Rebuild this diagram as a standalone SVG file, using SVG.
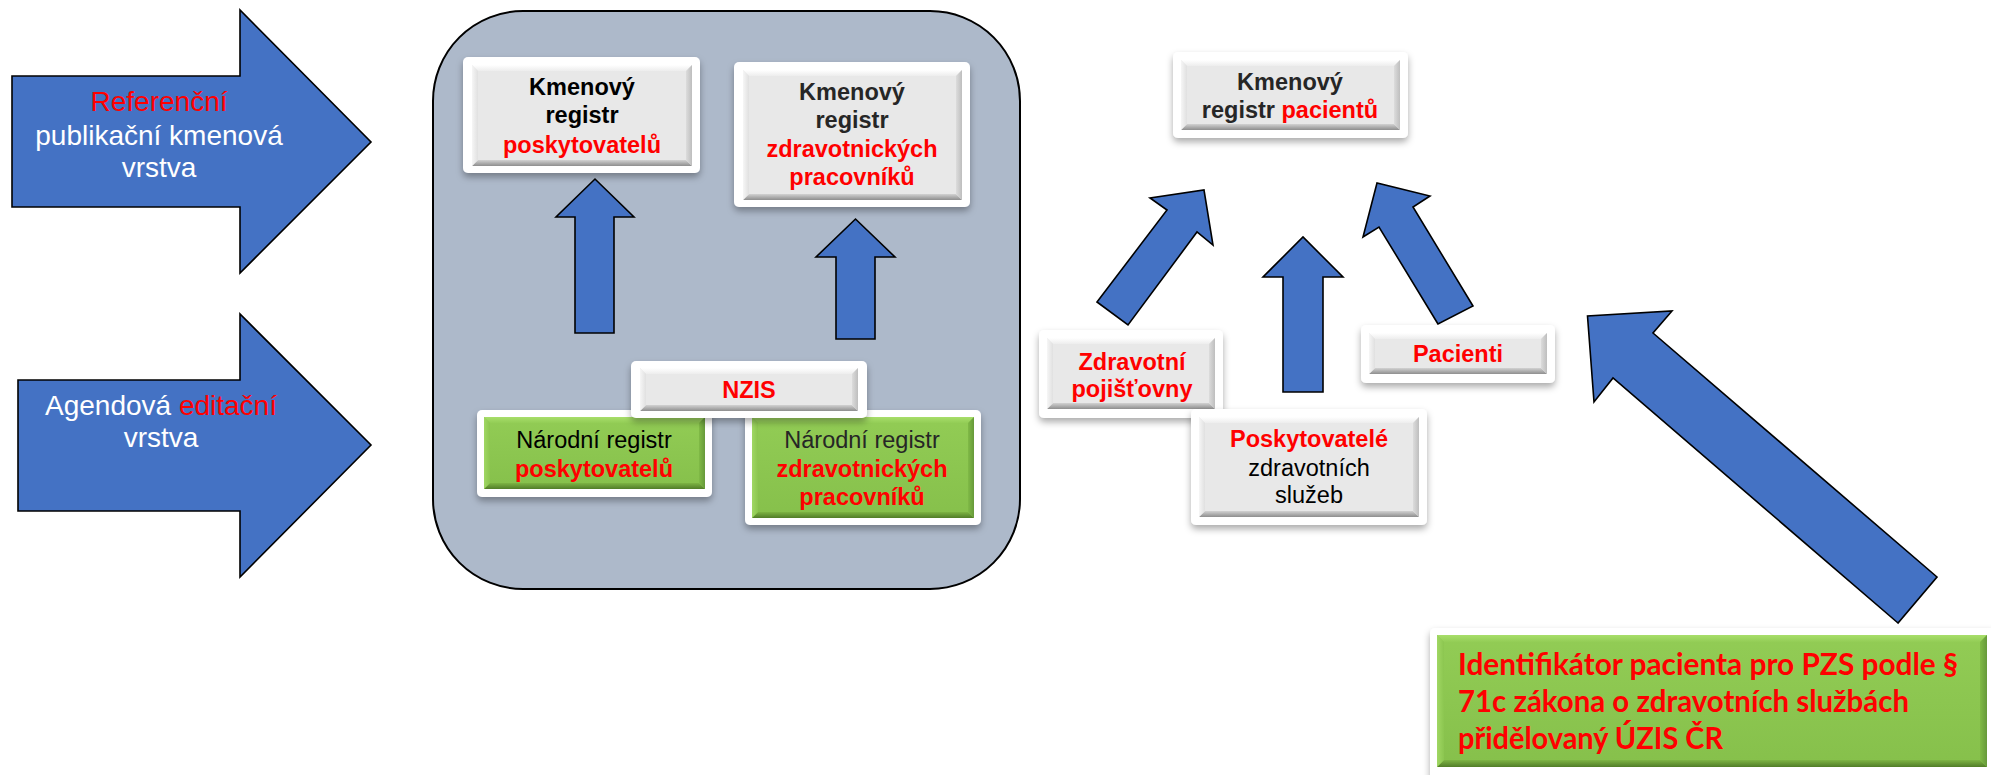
<svg xmlns="http://www.w3.org/2000/svg" width="1991" height="775" viewBox="0 0 1991 775">
  <style>
    .arrow { fill: #4472C4; stroke: #000; stroke-width: 1.6; stroke-linejoin: miter; }
    .frame { fill: #FFFFFF; filter: url(#shadow); }
    .face { fill: #E8E8E8; }
    .gface { fill: url(#gFace); }
    .bt { fill: url(#bevTop); }
    .bb { fill: url(#bevBot); }
    .bl { fill: url(#bevLeft); }
    .br { fill: url(#bevRight); }
    .gbt { fill: url(#gBevTop); }
    .gbb { fill: url(#gBevBot); }
    .gbl { fill: url(#gBevLeft); }
    .gbr { fill: url(#gBevRight); }
    .atxt { font-family: "Liberation Sans", Arial, sans-serif; font-size: 28px; fill: #FFFFFF; text-anchor: middle; }
    .btxt { font-family: "Liberation Sans", Arial, sans-serif; font-size: 23.5px; text-anchor: middle; fill: #000; }
    .bold { font-weight: bold; }
    .dark { fill: #262626; }
    .red { fill: #FF0000; }
    .note { font-family: Lato, "Liberation Sans", sans-serif; font-weight: bold; font-size: 30px; fill: #FF0000; }
  </style>
  <defs>
    <filter id="shadow" x="-10%" y="-20%" width="120%" height="150%">
      <feDropShadow dx="0" dy="4" stdDeviation="3.5" flood-color="#000" flood-opacity="0.33"/>
    </filter>
    <linearGradient id="bevTop" x1="0" y1="0" x2="0" y2="1">
      <stop offset="0" stop-color="#FFFFFF"/><stop offset="1" stop-color="#EDEDED"/>
    </linearGradient>
    <linearGradient id="bevBot" x1="0" y1="0" x2="0" y2="1">
      <stop offset="0" stop-color="#D2D2D2"/><stop offset="1" stop-color="#8E8E8E"/>
    </linearGradient>
    <linearGradient id="bevLeft" x1="0" y1="0" x2="1" y2="0">
      <stop offset="0" stop-color="#F6F6F6"/><stop offset="1" stop-color="#E0E0E0"/>
    </linearGradient>
    <linearGradient id="bevRight" x1="0" y1="0" x2="1" y2="0">
      <stop offset="0" stop-color="#DCDCDC"/><stop offset="1" stop-color="#BEBEBE"/>
    </linearGradient>
    <linearGradient id="gFace" x1="0" y1="0" x2="0" y2="1">
      <stop offset="0" stop-color="#92CC55"/><stop offset="1" stop-color="#86C04B"/>
    </linearGradient>
    <linearGradient id="gBevTop" x1="0" y1="0" x2="0" y2="1">
      <stop offset="0" stop-color="#A8DE6A"/><stop offset="1" stop-color="#93CD56"/>
    </linearGradient>
    <linearGradient id="gBevBot" x1="0" y1="0" x2="0" y2="1">
      <stop offset="0" stop-color="#7DB443"/><stop offset="1" stop-color="#517D28"/>
    </linearGradient>
    <linearGradient id="gBevLeft" x1="0" y1="0" x2="1" y2="0">
      <stop offset="0" stop-color="#A0D763"/><stop offset="1" stop-color="#8CC650"/>
    </linearGradient>
    <linearGradient id="gBevRight" x1="0" y1="0" x2="1" y2="0">
      <stop offset="0" stop-color="#80BA46"/><stop offset="1" stop-color="#66993A"/>
    </linearGradient>
  </defs>

  <rect width="1991" height="775" fill="#FFFFFF"/>

  <!-- layer arrows on the left -->
  <g id="layer-reference">
    <polygon class="arrow" points="12,76 240,76 240,10 371,142 240,273 240,207 12,207"/>
    <text class="atxt" x="159" y="111"><tspan class="red">Referenční</tspan></text>
    <text class="atxt" x="159" y="145">publikační kmenová</text>
    <text class="atxt" x="159" y="177">vrstva</text>
  </g>
  <g id="layer-agenda">
    <polygon class="arrow" points="18,380 240,380 240,314 371,445 240,577 240,511 18,511"/>
    <text class="atxt" x="161" y="415">Agendová <tspan class="red">editační</tspan></text>
    <text class="atxt" x="161" y="447">vrstva</text>
  </g>

  <!-- NZIS container -->
  <g id="nzis-container">
    <rect x="433" y="11" width="587" height="578" rx="90" ry="90" fill="#ADB9CA" stroke="#000" stroke-width="2"/>
  </g>

  <g id="kr-poskytovatelu">
    <rect class="frame" x="463" y="57" width="237" height="116" rx="5"/>
    <rect class="face" x="472" y="65" width="220" height="101"/>
    <polygon class="bt" points="472,65 692,65 686,71 478,71"/>
    <polygon class="bb" points="472,166 692,166 686,160 478,160"/>
    <polygon class="bl" points="472,65 478,71 478,160 472,166"/>
    <polygon class="br" points="692,65 686,71 686,160 692,166"/>
    <text class="btxt bold" x="582" y="95">Kmenový</text>
    <text class="btxt bold" x="582" y="123">registr</text>
    <text class="btxt bold red" x="582" y="153">poskytovatelů</text>
  </g>

  <g id="kr-pracovniku">
    <rect class="frame" x="734" y="62" width="236" height="145" rx="5"/>
    <rect class="face" x="743" y="70" width="219" height="130"/>
    <polygon class="bt" points="743,70 962,70 956,76 749,76"/>
    <polygon class="bb" points="743,200 962,200 956,194 749,194"/>
    <polygon class="bl" points="743,70 749,76 749,194 743,200"/>
    <polygon class="br" points="962,70 956,76 956,194 962,200"/>
    <text class="btxt bold dark" x="852" y="100">Kmenový</text>
    <text class="btxt bold dark" x="852" y="128">registr</text>
    <text class="btxt bold red" x="852" y="157">zdravotnických</text>
    <text class="btxt bold red" x="852" y="185">pracovníků</text>
  </g>

  <g id="nr-poskytovatelu">
    <rect class="frame" x="477" y="410" width="235" height="87" rx="5"/>
    <rect class="gface" x="484" y="417" width="221" height="72"/>
    <polygon class="gbt" points="484,417 705,417 699,423 490,423"/>
    <polygon class="gbb" points="484,489 705,489 699,483 490,483"/>
    <polygon class="gbl" points="484,417 490,423 490,483 484,489"/>
    <polygon class="gbr" points="705,417 699,423 699,483 705,489"/>
    <text class="btxt" x="594" y="448">Národní registr</text>
    <text class="btxt bold red" x="594" y="477">poskytovatelů</text>
  </g>

  <g id="nr-pracovniku">
    <rect class="frame" x="745" y="410" width="236" height="115" rx="5"/>
    <rect class="gface" x="752" y="417" width="222" height="101"/>
    <polygon class="gbt" points="752,417 974,417 968,423 758,423"/>
    <polygon class="gbb" points="752,518 974,518 968,512 758,512"/>
    <polygon class="gbl" points="752,417 758,423 758,512 752,518"/>
    <polygon class="gbr" points="974,417 968,423 968,512 974,518"/>
    <text class="btxt dark" x="862" y="448">Národní registr</text>
    <text class="btxt bold red" x="862" y="477">zdravotnických</text>
    <text class="btxt bold red" x="862" y="505">pracovníků</text>
  </g>

  <g id="nzis">
    <rect class="frame" x="631" y="361" width="236" height="57" rx="5"/>
    <rect class="face" x="640" y="368" width="218" height="43"/>
    <polygon class="bt" points="640,368 858,368 852,374 646,374"/>
    <polygon class="bb" points="640,411 858,411 852,405 646,405"/>
    <polygon class="bl" points="640,368 646,374 646,405 640,411"/>
    <polygon class="br" points="858,368 852,374 852,405 858,411"/>
    <text class="btxt bold red" x="749" y="398">NZIS</text>
  </g>

  <!-- patient registry and its sources -->
  <g id="kr-pacientu">
    <rect class="frame" x="1173" y="52" width="235" height="86" rx="5"/>
    <rect class="face" x="1181" y="60" width="219" height="70"/>
    <polygon class="bt" points="1181,60 1400,60 1394,66 1187,66"/>
    <polygon class="bb" points="1181,130 1400,130 1394,124 1187,124"/>
    <polygon class="bl" points="1181,60 1187,66 1187,124 1181,130"/>
    <polygon class="br" points="1400,60 1394,66 1394,124 1400,130"/>
    <text class="btxt bold dark" x="1290" y="90">Kmenový</text>
    <text class="btxt bold dark" x="1290" y="118">registr <tspan class="red">pacientů</tspan></text>
  </g>

  <g id="zdravotni-pojistovny">
    <rect class="frame" x="1039" y="330" width="184" height="88" rx="5"/>
    <rect class="face" x="1047" y="338" width="168" height="71"/>
    <polygon class="bt" points="1047,338 1215,338 1209,344 1053,344"/>
    <polygon class="bb" points="1047,409 1215,409 1209,403 1053,403"/>
    <polygon class="bl" points="1047,338 1053,344 1053,403 1047,409"/>
    <polygon class="br" points="1215,338 1209,344 1209,403 1215,409"/>
    <text class="btxt bold red" x="1132" y="370">Zdravotní</text>
    <text class="btxt bold red" x="1132" y="397">pojišťovny</text>
  </g>

  <g id="pacienti">
    <rect class="frame" x="1361" y="325" width="194" height="58" rx="5"/>
    <rect class="face" x="1369" y="333" width="178" height="41"/>
    <polygon class="bt" points="1369,333 1547,333 1541,339 1375,339"/>
    <polygon class="bb" points="1369,374 1547,374 1541,368 1375,368"/>
    <polygon class="bl" points="1369,333 1375,339 1375,368 1369,374"/>
    <polygon class="br" points="1547,333 1541,339 1541,368 1547,374"/>
    <text class="btxt bold red" x="1458" y="362">Pacienti</text>
  </g>

  <g id="poskytovatele">
    <rect class="frame" x="1191" y="409" width="236" height="116" rx="5"/>
    <rect class="face" x="1199" y="417" width="220" height="100"/>
    <polygon class="bt" points="1199,417 1419,417 1413,423 1205,423"/>
    <polygon class="bb" points="1199,517 1419,517 1413,511 1205,511"/>
    <polygon class="bl" points="1199,417 1205,423 1205,511 1199,517"/>
    <polygon class="br" points="1419,417 1413,423 1413,511 1419,517"/>
    <text class="btxt bold red" x="1309" y="447">Poskytovatelé</text>
    <text class="btxt" x="1309" y="476">zdravotních</text>
    <text class="btxt" x="1309" y="503">služeb</text>
  </g>

  <g id="identifikator">
    <rect class="frame" x="1430" y="628" width="566" height="152" rx="5"/>
    <rect class="gface" x="1437" y="635" width="550" height="132"/>
    <polygon class="gbt" points="1437,635 1987,635 1980,642 1444,642"/>
    <polygon class="gbb" points="1437,767 1987,767 1980,760 1444,760"/>
    <polygon class="gbl" points="1437,635 1444,642 1444,760 1437,767"/>
    <polygon class="gbr" points="1987,635 1980,642 1980,760 1987,767"/>
    <text class="note" x="1458" y="675" textLength="500" lengthAdjust="spacingAndGlyphs">Identifikátor pacienta pro PZS podle §</text>
    <text class="note" x="1458" y="712" textLength="451" lengthAdjust="spacingAndGlyphs">71c zákona o zdravotních službách</text>
    <text class="note" x="1458" y="749" textLength="265" lengthAdjust="spacingAndGlyphs">přidělovaný ÚZIS ČR</text>
  </g>

  <!-- block arrows between the boxes -->
  <g id="connectors">
    <polygon class="arrow" points="575,333 575,217 556,217 595,179 634,217 614,217 614,333"/>
    <polygon class="arrow" points="836,339 836,257 816,257 855.5,219 895,257 875,257 875,339"/>
    <polygon class="arrow" points="1097,302 1167,210 1150,198 1204,190 1213,245 1197,232 1128,325"/>
    <polygon class="arrow" points="1283,392 1283,277 1263,277 1303,237 1343,277 1323,277 1323,392"/>
    <polygon class="arrow" points="1438,324 1379,227 1363,237 1377,183 1430,196 1413,207 1473,306"/>
    <polygon class="arrow" points="1898,623 1613,378 1594,402 1587.5,316 1672,311 1653,333 1937,577"/>
  </g>
</svg>
